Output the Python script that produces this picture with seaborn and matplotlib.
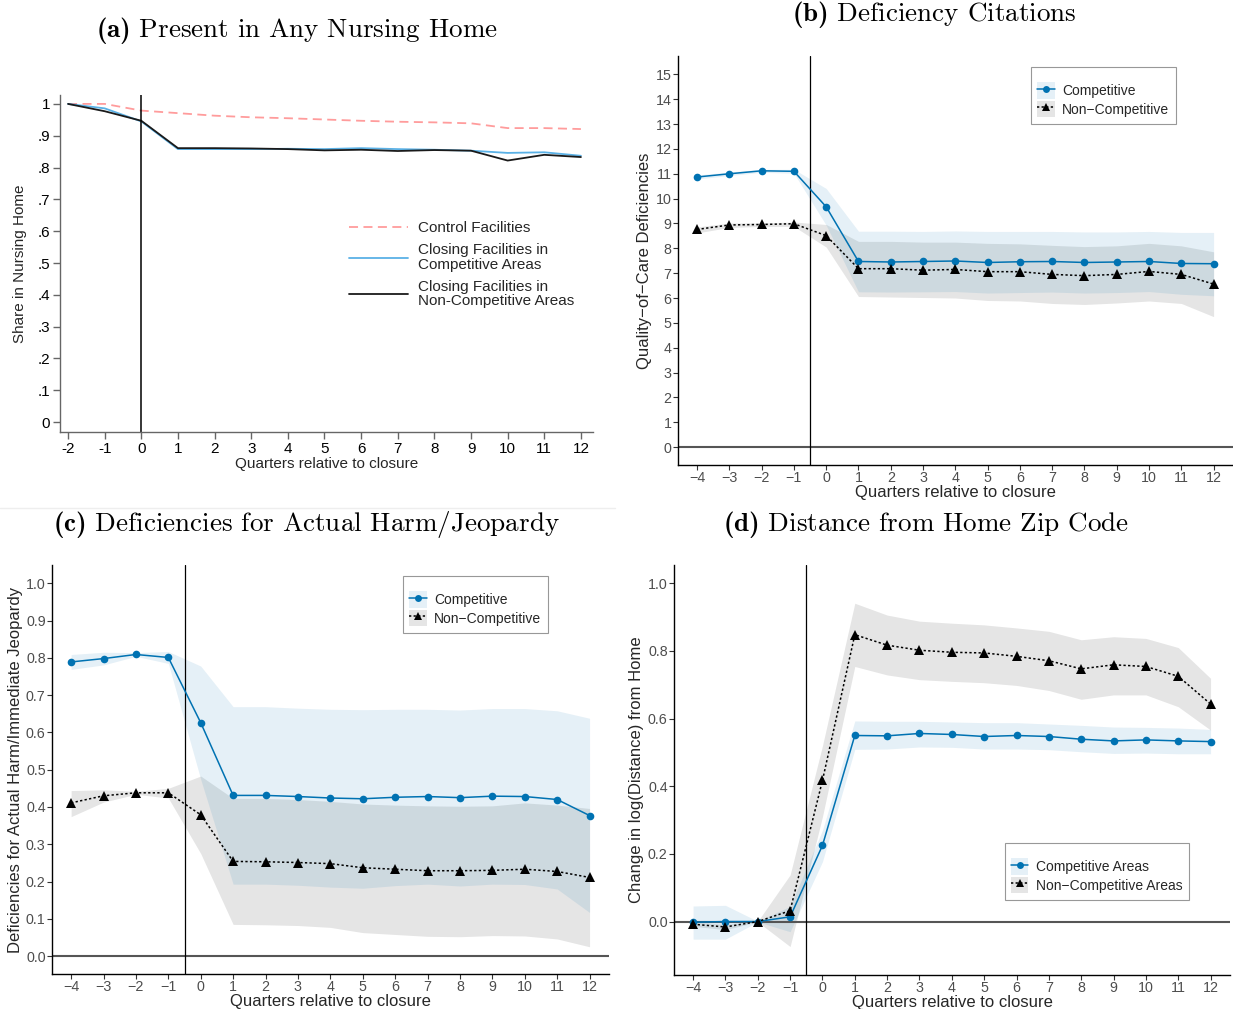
import numpy as np
import pandas as pd
import matplotlib
matplotlib.use("Agg")
import matplotlib.pyplot as plt
import seaborn as sns
from matplotlib.patches import Patch
from matplotlib.lines import Line2D

sns.set_theme(style="white")
plt.rcParams['font.family'] = ['Liberation Sans', 'DejaVu Sans']
plt.rcParams['mathtext.fontset'] = 'custom'
plt.rcParams['mathtext.rm'] = 'cmr10'
plt.rcParams['mathtext.bf'] = 'cmb10'
plt.rcParams['axes.unicode_minus'] = False

# ---------------- data ----------------
# (a) share of residents present in any nursing home
quarters_a = list(range(-2, 13))
share_control = [1.000, 1.000, 0.979, 0.971, 0.963, 0.958, 0.955, 0.951, 0.947,
                 0.944, 0.942, 0.939, 0.924, 0.924, 0.921]
share_comp = [1.000, 0.986, 0.945, 0.858, 0.858, 0.858, 0.859, 0.858, 0.861,
              0.858, 0.856, 0.853, 0.846, 0.848, 0.837]
share_noncomp = [1.000, 0.977, 0.947, 0.861, 0.861, 0.860, 0.858, 0.854, 0.856,
                 0.852, 0.855, 0.853, 0.822, 0.840, 0.833]

quarters = list(range(-4, 13))

# (b) quality-of-care deficiency citations
cit_comp = [10.87, 11.00, 11.12, 11.10, 9.67, 7.47, 7.45, 7.47, 7.49, 7.43, 7.46,
            7.47, 7.43, 7.45, 7.47, 7.39, 7.38]
cit_comp_hi = [10.95, 11.07, 11.18, 11.18, 10.41, 8.69, 8.69, 8.68, 8.70, 8.68, 8.68,
               8.68, 8.66, 8.66, 8.68, 8.64, 8.64]
cit_comp_lo = [10.79, 10.93, 11.06, 11.02, 8.93, 6.25, 6.24, 6.25, 6.26, 6.20, 6.22,
               6.24, 6.20, 6.22, 6.26, 6.15, 6.09]
cit_noncomp = [8.76, 8.94, 8.96, 8.99, 8.51, 7.18, 7.18, 7.12, 7.15, 7.06, 7.06,
               6.95, 6.90, 6.95, 7.07, 6.95, 6.56]
cit_noncomp_hi = [8.86, 9.02, 9.02, 9.06, 8.96, 8.28, 8.28, 8.25, 8.25, 8.20, 8.18,
                  8.12, 8.07, 8.10, 8.20, 8.10, 7.86]
cit_noncomp_lo = [8.62, 8.84, 8.88, 8.88, 8.05, 6.06, 6.04, 6.02, 6.00, 5.90, 5.88,
                  5.78, 5.74, 5.80, 5.88, 5.78, 5.25]

# (c) deficiencies for actual harm / immediate jeopardy
harm_comp = [0.789, 0.798, 0.809, 0.801, 0.626, 0.431, 0.431, 0.428, 0.424, 0.422,
             0.426, 0.428, 0.425, 0.429, 0.428, 0.420, 0.377]
harm_comp_hi = [0.809, 0.815, 0.814, 0.817, 0.778, 0.669, 0.669, 0.665, 0.662, 0.661,
                0.662, 0.662, 0.660, 0.664, 0.664, 0.658, 0.638]
harm_comp_lo = [0.769, 0.781, 0.804, 0.785, 0.474, 0.193, 0.193, 0.190, 0.185, 0.182,
                0.189, 0.193, 0.188, 0.193, 0.192, 0.180, 0.117]
harm_noncomp = [0.411, 0.430, 0.438, 0.438, 0.379, 0.254, 0.253, 0.251, 0.248, 0.237,
                0.233, 0.229, 0.229, 0.230, 0.233, 0.227, 0.211]
harm_noncomp_hi = [0.444, 0.446, 0.442, 0.450, 0.483, 0.423, 0.423, 0.420, 0.415, 0.408,
                   0.405, 0.403, 0.402, 0.403, 0.411, 0.405, 0.396]
harm_noncomp_lo = [0.374, 0.413, 0.434, 0.424, 0.275, 0.085, 0.084, 0.082, 0.077, 0.063,
                   0.058, 0.053, 0.052, 0.055, 0.054, 0.046, 0.025]

# (d) change in log distance from home zip code
dist_comp = [-0.002, 0.000, 0.000, 0.014, 0.225, 0.550, 0.549, 0.556, 0.553, 0.547,
             0.550, 0.547, 0.539, 0.534, 0.537, 0.534, 0.532]
dist_comp_hi = [0.046, 0.048, 0.001, 0.045, 0.270, 0.593, 0.592, 0.592, 0.590, 0.588,
                0.588, 0.584, 0.580, 0.575, 0.574, 0.572, 0.568]
dist_comp_lo = [-0.052, -0.052, -0.001, -0.030, 0.177, 0.509, 0.510, 0.516, 0.515, 0.510,
                0.510, 0.508, 0.502, 0.497, 0.498, 0.496, 0.496]
dist_noncomp = [-0.008, -0.016, 0.000, 0.032, 0.417, 0.848, 0.817, 0.802, 0.796, 0.794,
                0.784, 0.771, 0.747, 0.759, 0.754, 0.725, 0.643]
dist_noncomp_hi = [-0.002, -0.008, 0.001, 0.138, 0.520, 0.941, 0.906, 0.888, 0.882, 0.877,
                   0.868, 0.858, 0.833, 0.842, 0.837, 0.810, 0.719]
dist_noncomp_lo = [-0.014, -0.024, -0.001, -0.074, 0.310, 0.754, 0.729, 0.715, 0.710, 0.706,
                   0.698, 0.683, 0.657, 0.670, 0.670, 0.635, 0.566]

# ---------------- styling ----------------
BLUE = '#0072B2'
BAND_ALPHA = 0.10
TICK_GREY = '#4D4D4D'
W, H = 1233, 1009

fig = plt.figure(figsize=(W / 100, H / 100), dpi=100)


def px_axes(left, top, right, bottom):
    return fig.add_axes([left / W, 1 - bottom / H, (right - left) / W, (bottom - top) / H])


def panel_title(x, y, bold, text):
    words = text.replace(' ', r'\ ')
    fig.text(x / W, 1 - y / H, r'$\mathbf{(%s)}\ \mathrm{%s}$' % (bold, words),
             ha='center', va='center', fontsize=19.5, color='black')


def place_ylabel(ax, left_px, width_px, x_px):
    ax.yaxis.set_label_coords((x_px - left_px) / width_px, 0.5)
    ax.yaxis.label.set_va('center')


# ---------------- panel (a) ----------------
ax = px_axes(60, 95, 593, 432)
sns.lineplot(x=quarters_a, y=share_control, ax=ax, color='#FF9C9C', linewidth=1.3,
             linestyle=(0, (5, 3)), errorbar=None)
sns.lineplot(x=quarters_a, y=share_comp, ax=ax, color='#5AB1E6', linewidth=1.3,
             errorbar=None)
sns.lineplot(x=quarters_a, y=share_noncomp, ax=ax, color='#1A1A1A', linewidth=1.3,
             errorbar=None)
ax.axvline(0, color='black', linewidth=1.1)
ax.set_xlim(-2.22, 12.33)
ax.set_ylim(-0.031, 1.028)
ax.set_xticks(quarters_a)
ax.set_xticklabels([str(v) for v in quarters_a])
yt = np.round(np.arange(0, 1.01, 0.1), 1)
ax.set_yticks(yt)
ax.set_yticklabels(['0'] + ['.%d' % int(round(v * 10)) for v in yt[1:-1]] + ['1'])
for s in ['top', 'right']:
    ax.spines[s].set_visible(False)
for s in ['left', 'bottom']:
    ax.spines[s].set_color('#666666')
    ax.spines[s].set_linewidth(1.0)
ax.tick_params(axis='both', direction='out', length=5, width=1, color='#666666',
               labelsize=11, labelcolor='black', pad=2, left=True, bottom=True)
ax.set_xlabel('Quarters relative to closure', fontsize=11, labelpad=1)
ax.set_ylabel('Share in Nursing Home', fontsize=11)
place_ylabel(ax, 60, 533, 20)
handles_a = [Line2D([], [], color='#FF9C9C', linewidth=1.3, linestyle=(0, (5, 3))),
             Line2D([], [], color='#5AB1E6', linewidth=1.3),
             Line2D([], [], color='#1A1A1A', linewidth=1.3)]
labels_a = ['Control Facilities', 'Closing Facilities in\nCompetitive Areas',
            'Closing Facilities in\nNon-Competitive Areas']
leg_a = ax.legend(handles_a, labels_a, loc='upper left', bbox_to_anchor=(0.542, 0.625),
                  frameon=False, fontsize=11, handlelength=3.9, handletextpad=0.6,
                  labelspacing=0.5, borderaxespad=0, borderpad=0)
for t in leg_a.get_texts():
    t.set_linespacing(1.08)
panel_title(297, 30, 'a', 'Present in Any Nursing Home')


# ---------------- panels (b)-(d) ----------------
def event_panel(box, comp, comp_lo, comp_hi, non, non_lo, non_hi, ylim, yticks,
                ylabels, ylabel, legend_labels, legend_anchor, ylabel_x):
    left, top, right, bottom = box
    ax = px_axes(*box)
    ax.fill_between(quarters, non_lo, non_hi, color='black', alpha=BAND_ALPHA,
                    linewidth=0)
    ax.fill_between(quarters, comp_lo, comp_hi, color=BLUE, alpha=BAND_ALPHA,
                    linewidth=0)
    ax.axhline(0, color='#555555', linewidth=1.5, zorder=1)
    ax.axvline(-0.5, color='black', linewidth=0.9, zorder=1)
    sns.lineplot(x=quarters, y=comp, ax=ax, color=BLUE, linewidth=1.1, marker='o',
                 markersize=5.5, markeredgewidth=0, errorbar=None)
    sns.lineplot(x=quarters, y=non, ax=ax, color='black', linewidth=1.1,
                 linestyle=(0, (1.5, 1.5)), marker='^', markersize=7,
                 markeredgewidth=0, errorbar=None)
    ax.set_xlim(-4.59, 12.6)
    ax.set_ylim(*ylim)
    ax.set_xticks(quarters)
    ax.set_xticklabels([str(v).replace('-', '\u2212') for v in quarters])
    ax.set_yticks(yticks)
    ax.set_yticklabels(ylabels)
    for s in ['top', 'right']:
        ax.spines[s].set_visible(False)
    for s in ['left', 'bottom']:
        ax.spines[s].set_color('black')
        ax.spines[s].set_linewidth(1.0)
    ax.tick_params(axis='both', direction='out', length=3.5, width=0.8,
                   color='#333333', labelsize=10.3, labelcolor=TICK_GREY, pad=1,
                   left=True, bottom=True)
    ax.set_xlabel('Quarters relative to closure', fontsize=12, labelpad=0)
    ax.set_ylabel(ylabel, fontsize=12)
    place_ylabel(ax, left, right - left, ylabel_x)
    handles = [(Patch(facecolor=BLUE, alpha=BAND_ALPHA, linewidth=0),
                Line2D([], [], color=BLUE, marker='o', markersize=5, linewidth=1.1,
                       markeredgewidth=0)),
               (Patch(facecolor='black', alpha=BAND_ALPHA, linewidth=0),
                Line2D([], [], color='black', marker='^', markersize=6, linewidth=1.1,
                       linestyle=(0, (1.5, 1.5)), markeredgewidth=0))]
    leg = ax.legend(handles, legend_labels, loc='upper left',
                    bbox_to_anchor=legend_anchor, borderaxespad=0, fontsize=10,
                    frameon=True, fancybox=False, edgecolor='#7F7F7F',
                    handlelength=1.25, handleheight=1.45, handletextpad=0.55,
                    labelspacing=0.15, borderpad=0.45, title=' ', title_fontsize=6)
    leg.get_frame().set_linewidth(0.8)
    return ax


event_panel((678, 56, 1233, 465), cit_comp, cit_comp_lo, cit_comp_hi,
            cit_noncomp, cit_noncomp_lo, cit_noncomp_hi,
            (-0.72, 15.74), list(range(0, 16)), [str(v) for v in range(0, 16)],
            'Quality\u2212of\u2212Care Deficiencies',
            ['Competitive', 'Non\u2212Competitive'], (0.636, 0.973), 645)
panel_title(934, 15, 'b', 'Deficiency Citations')

yc = np.round(np.arange(0, 1.01, 0.1), 1)
event_panel((52, 565, 609, 974), harm_comp, harm_comp_lo, harm_comp_hi,
            harm_noncomp, harm_noncomp_lo, harm_noncomp_hi,
            (-0.048, 1.049), yc, ['%.1f' % v for v in yc],
            'Deficiencies for Actual Harm/Immediate Jeopardy',
            ['Competitive', 'Non\u2212Competitive'], (0.630, 0.973), 16)
panel_title(306, 525, 'c', 'Deficiencies for Actual Harm/Jeopardy')

yd = np.round(np.arange(0, 1.01, 0.2), 1)
event_panel((674, 565, 1230, 975), dist_comp, dist_comp_lo, dist_comp_hi,
            dist_noncomp, dist_noncomp_lo, dist_noncomp_hi,
            (-0.158, 1.054), yd, ['%.1f' % v for v in yd],
            'Change in log(Distance) from Home',
            ['Competitive Areas', 'Non\u2212Competitive Areas'], (0.595, 0.322), 637)
panel_title(926, 525, 'd', 'Distance from Home Zip Code')

# faint divider under the first panel
fig.add_artist(Line2D([0, 615 / W], [1 - 508 / H, 1 - 508 / H], color='#EEEEEE',
                      linewidth=1))

fig.savefig('out.png', dpi=100)
